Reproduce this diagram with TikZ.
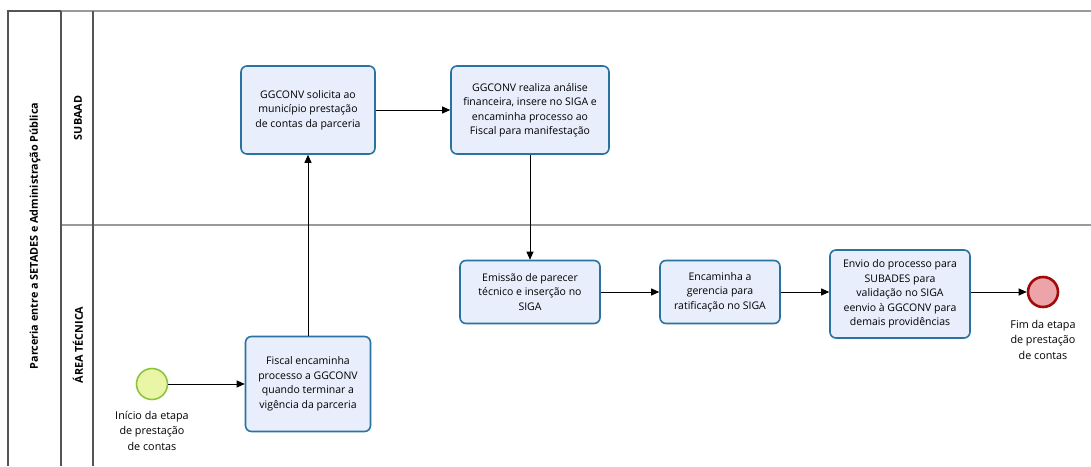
\documentclass[tikz,border=0pt]{standalone}
\usepackage{fontspec}
\setmainfont{Open Sans}
\usetikzlibrary{arrows.meta}
\definecolor{taskfill}{HTML}{E8EEFB}
\definecolor{taskline}{HTML}{2A72A0}
\definecolor{startfill}{HTML}{E8F6A6}
\definecolor{startline}{HTML}{8CC63F}
\definecolor{endfill}{HTML}{EDA4A8}
\definecolor{endline}{HTML}{A00A0A}
\definecolor{framedark}{HTML}{555555}
\definecolor{framelight}{HTML}{9A9A9A}
\tikzset{
  task/.style={draw=taskline, fill=taskfill, line width=1.6pt, rounded corners=6pt,
    align=center, font=\fontsize{10.5}{14.5}\selectfont, inner sep=0pt},
  startev/.style={circle, draw=startline, fill=startfill, line width=1.6pt, minimum size=31pt, inner sep=0pt},
  endev/.style={circle, draw=endline, fill=endfill, line width=2.6pt, minimum size=30pt, inner sep=0pt},
  evlabel/.style={align=center, font=\fontsize{10.8}{15.5}\selectfont, inner sep=0pt},
  flow/.style={-{Triangle[length=8pt,width=7pt]}, line width=0.9pt, black},
  lanetitle/.style={rotate=90, font=\bfseries\fontsize{10.8}{13}\selectfont},
}
\begin{document}
\begin{tikzpicture}[x=1pt, y=-1pt]
\useasboundingbox (0,0) rectangle (1091,466);
% pool and lane frame
\draw[framelight, line width=1.4pt] (61,11) -- (1091,11);
\draw[framelight, line width=1.4pt] (61,225) -- (1091,225);
\draw[framedark, line width=1.4pt] (8,466) -- (8,11) -- (61,11);
\draw[framedark, line width=1.4pt] (61,11) -- (61,466);
\draw[framedark, line width=1.2pt] (93,11) -- (93,466);
% pool and lane titles
\node[lanetitle] (pool) at (35,236) {Parceria entre a SETADES e Administração Pública};
\node[lanetitle] (laneA) at (78,118) {SUBAAD};
\node[lanetitle] (laneB) at (78,345) {ÁREA TÉCNICA};
% events
\node[startev] (start) at (152,384) {};
\node[evlabel, anchor=north] (startlbl) at (152,411) {Início da etapa\\de prestação\\de contas};
\node[endev] (stop) at (1043,292) {};
\node[evlabel, anchor=north] (stoplbl) at (1043,320) {Fim da etapa\\de prestação\\de contas};
% tasks
\node[task, minimum width=134pt, minimum height=88pt] (t1) at (308,110)
  {GGCONV solicita ao\\município prestação\\de contas da parceria};
\node[task, minimum width=158pt, minimum height=88pt] (t2) at (530,110)
  {GGCONV realiza análise\\financeira, insere no SIGA e\\encaminha processo ao\\Fiscal para manifestação};
\node[task, minimum width=140pt, minimum height=63pt] (t3) at (530,292)
  {Emissão de parecer\\técnico e inserção no\\SIGA};
\node[task, minimum width=120pt, minimum height=63pt] (t4) at (720,292)
  {Encaminha a\\gerencia para\\ratificação no SIGA};
\node[task, minimum width=140pt, minimum height=88pt] (t5) at (900,294)
  {Envio do processo para\\SUBADES para\\validação no SIGA\\eenvio à GGCONV para\\demais providências};
\node[task, minimum width=125pt, minimum height=95pt] (t0) at (308,384)
  {Fiscal encaminha\\processo a GGCONV\\quando terminar a\\vigência da parceria};
% sequence flows
\draw[flow] (start) -- (t0);
\draw[flow] (t0) -- (t1);
\draw[flow] (t1) -- (t2);
\draw[flow] (t2) -- (t3);
\draw[flow] (t3) -- (t4);
\draw[flow] (t4.east) -- (t5.west |- t4.east);
\draw[flow] (t5.east |- stop) -- (stop);
\end{tikzpicture}
\end{document}
